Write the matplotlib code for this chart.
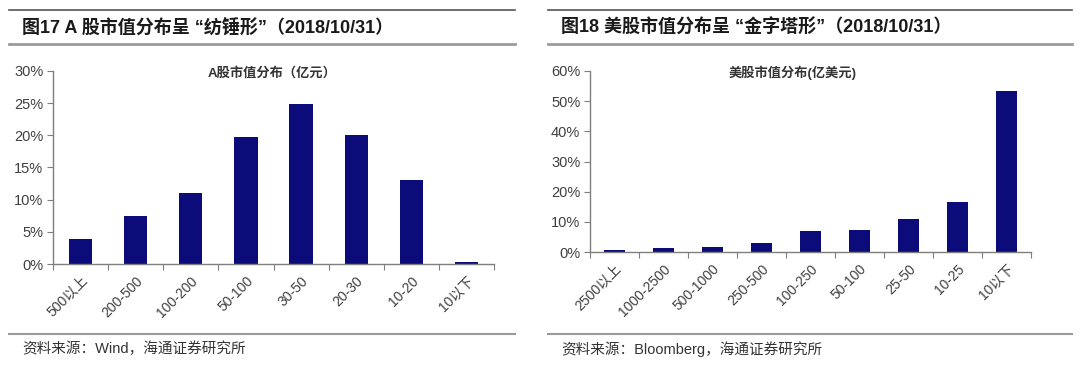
import matplotlib
matplotlib.use("Agg")
import matplotlib.pyplot as plt
from matplotlib.lines import Line2D
from matplotlib.ticker import PercentFormatter

plt.rcParams['font.family'] = ['Liberation Sans', 'Noto Sans CJK SC', 'DejaVu Sans']

# --- données ---
a_labels = ["500以上", "200-500", "100-200", "50-100", "30-50", "20-30", "10-20", "10以下"]
a_values = [3.9, 7.5, 11.1, 19.7, 24.8, 20.0, 13.1, 0.25]

us_labels = ["2500以上", "1000-2500", "500-1000", "250-500", "100-250", "50-100", "25-50", "10-25", "10以下"]
us_values = [0.5, 1.3, 1.5, 3.0, 7.0, 7.2, 11.0, 16.7, 53.3]

W, H = 1080, 375
BAR = '#0b0b7a'
AXC = '#7f7f7f'
TXT = '#404040'

fig = plt.figure(figsize=(W / 100, H / 100), dpi=100)
fig.patch.set_facecolor('white')


def hline(x0, x1, y, color, lw):
    fig.add_artist(Line2D([x0 / W, x1 / W], [1 - y / H, 1 - y / H], color=color, lw=lw,
                          transform=fig.transFigure))


def panel(rect, labels, values, ymax, step, subtitle, sub_x, title, source, px0, px1):
    x, y_top, w, y_bot = rect
    ax = fig.add_axes([x / W, 1 - y_bot / H, w / W, (y_bot - y_top) / H])
    n = len(labels)
    ax.bar(range(n), values, width=0.42, color=BAR, zorder=2)
    ax.set_xlim(-0.5, n - 0.5)
    ax.set_ylim(0, ymax)
    ax.set_yticks(range(0, ymax + 1, step))
    ax.yaxis.set_major_formatter(PercentFormatter(decimals=0))
    ax.set_xticks([i - 0.5 for i in range(n + 1)])
    ax.set_xticklabels([])
    ax.set_xticks(range(n), minor=True)
    ax.set_xticklabels(labels, minor=True, rotation=45, ha='right', va='top',
                       rotation_mode='anchor', color=TXT, fontsize=10)
    ax.tick_params(axis='x', which='minor', length=0, pad=7)
    ax.tick_params(axis='x', which='major', length=4, color=AXC, direction='out')
    ax.tick_params(axis='y', length=4, color=AXC, labelsize=10.5, labelcolor=TXT, pad=3)
    for s in ('top', 'right'):
        ax.spines[s].set_visible(False)
    for s in ('left', 'bottom'):
        ax.spines[s].set_color(AXC)
        ax.spines[s].set_linewidth(1.0)
    fig.text(sub_x / W, 1 - 73 / H, subtitle, ha='center', va='center', fontsize=9.5,
             fontweight='bold', color='#333333')
    fig.text((px0 + 13) / W, 1 - 28 / H, title, ha='left', va='center', fontsize=13,
             fontweight='bold', color='#1a1a1a')
    fig.text((px0 + 13) / W, 1 - 349 / H, source, ha='left', va='center', fontsize=10.5,
             color='#333333')
    hline(px0, px1, 10, '#555555', 1.2)
    hline(px0, px1, 44, '#9a9a9a', 2.0)
    hline(px0, px1, 334, '#9a9a9a', 1.5)
    return ax


panel((53, 71, 441, 264), a_labels, a_values, 30, 5, "A股市值分布（亿元）", 272,
      "图17 A 股市值分布呈 “纺锤形”（2018/10/31）", "资料来源：Wind，海通证券研究所", 9, 515)
panel((590, 71, 441, 252), us_labels, us_values, 60, 10, "美股市值分布(亿美元)", 793,
      "图18 美股市值分布呈 “金字塔形”（2018/10/31）", "资料来源：Bloomberg，海通证券研究所", 548, 1072)

fig.savefig('out.png', dpi=100, facecolor='white')
